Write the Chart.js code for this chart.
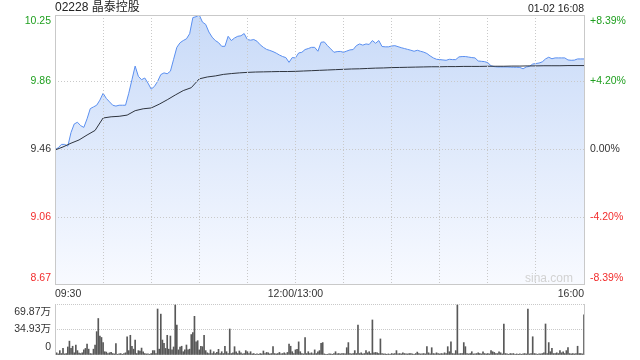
<!DOCTYPE html>
<html><head><meta charset="utf-8">
<script src="https://cdn.jsdelivr.net/npm/chart.js@4/dist/chart.umd.min.js"></script>
<style>
html,body{margin:0;padding:0;background:#fff;overflow:hidden;}
#wrap{position:relative;width:640px;height:360px;}
#title{position:absolute;left:55px;top:0;font:12px "Liberation Sans","Noto Sans CJK SC",sans-serif;line-height:14px;color:#222;white-space:nowrap;}
#date{position:absolute;right:56px;top:1px;font:10.5px "Liberation Sans",sans-serif;line-height:14px;color:#222;white-space:nowrap;}
#main{position:absolute;left:0;top:0;width:640px;height:300px;}
#vol{position:absolute;left:0;top:300px;width:640px;height:60px;}
</style></head>
<body><div id="wrap">
<canvas id="main" width="640" height="300"></canvas>
<canvas id="vol" width="640" height="60"></canvas>
<div id="title">02228 晶泰控股</div>
<div id="date">01-02 16:08</div>
</div>
<script>
// ---- data (minutes counted from 09:30, lunch break removed) ----
const priceStep = 2;   // price sampled every 2 minutes
const price = [
9.46, 9.47, 9.49, 9.49, 9.48, 9.56, 9.61, 9.62, 9.60, 9.59,
9.64, 9.70, 9.71, 9.72, 9.75, 9.79, 9.76, 9.74, 9.72, 9.715,
9.72, 9.72, 9.72, 9.79, 9.87, 9.95, 9.89, 9.87, 9.88, 9.85,
9.815, 9.83, 9.86, 9.90, 9.91, 9.905, 9.92, 9.99, 10.06, 10.087,
10.10, 10.11, 10.14, 10.235, 10.24, 10.25, 10.208, 10.195, 10.15, 10.12,
10.10, 10.088, 10.066, 10.066, 10.125, 10.10, 10.115, 10.125, 10.128, 10.141,
10.106, 10.102, 10.106, 10.096, 10.075, 10.06, 10.048, 10.042, 10.035, 10.026,
10.015, 10.006, 10.0, 9.972, 10.0, 9.998, 10.027, 10.031, 10.047, 10.053,
10.06, 10.06, 10.037, 10.09, 10.092, 10.07, 10.051, 10.031, 10.035, 10.036,
10.031, 10.038, 10.045, 10.047, 10.07, 10.08, 10.073, 10.08, 10.077, 10.10,
10.084, 10.10, 10.065, 10.063, 10.063, 10.068, 10.07, 10.064, 10.058, 10.053,
10.048, 10.043, 10.037, 10.043, 10.037, 10.032, 10.024, 10.01, 9.998, 9.99,
9.988, 9.986, 9.984, 9.99, 9.988, 9.988, 10.004, 10.006, 10.006, 10.003,
10.0, 9.998, 9.98, 9.978, 9.976, 9.97, 9.952, 9.947, 9.945, 9.945,
9.945, 9.945, 9.944, 9.943, 9.943, 9.942, 9.934, 9.945, 9.948, 9.962,
9.965, 9.968, 9.975, 9.992, 10.002, 9.993, 9.998, 9.998, 9.998, 9.998,
9.986, 9.984, 9.985, 9.992, 9.992, 9.992
];
const avgStep = 5;     // average price sampled every 5 minutes
const avgPrice = [
9.457, 9.475, 9.497, 9.516, 9.545, 9.572, 9.645, 9.652, 9.655, 9.662,
9.688, 9.699, 9.704, 9.726, 9.752, 9.78, 9.806, 9.823, 9.875, 9.886,
9.892, 9.901, 9.906, 9.91, 9.913, 9.915, 9.916, 9.917, 9.918, 9.918,
9.919, 9.921, 9.923, 9.925, 9.927, 9.929, 9.931, 9.933, 9.934, 9.936,
9.938, 9.939, 9.941, 9.942, 9.943, 9.944, 9.945, 9.946, 9.946, 9.947,
9.947, 9.948, 9.948, 9.948, 9.949, 9.949, 9.949, 9.95, 9.95, 9.951,
9.951, 9.952, 9.952, 9.952, 9.953, 9.953, 9.953
];
// volume per minute, unit: 万
const volume = [
4.6, 3, 1.5, 6, 2, 9, 1.5, 2, 11, 19,
9, 12, 3, 13.7, 6, 2.5, 2, 3, 7, 9,
15, 8, 2, 1.5, 8, 13.7, 32, 50, 26, 24,
17, 4.5, 4, 2, 3, 3.5, 2, 1.5, 15.5, 1,
1.5, 2, 1, 2, 3, 25, 6, 27, 12, 8,
20.5, 2, 6, 5.5, 9.5, 4.5, 2, 1.5, 1.5, 1,
2, 6, 6, 2, 63, 8, 56, 20.5, 16, 9,
27, 8, 26, 7, 11, 68.5, 41, 7, 11, 12,
4.5, 7, 13.7, 7, 8, 28, 30.6, 53, 18, 19.6,
7, 12, 11.4, 27, 6, 3, 2, 7, 2, 4.5,
2, 3.5, 7.8, 2, 4.5, 2, 12, 4.5, 2, 35.6,
2, 3, 11.4, 4.5, 2, 5.5, 3, 1.5, 2, 6,
4.5, 2, 4.5, 1.5, 2, 1, 1.5, 1, 2, 1.5,
5.5, 2, 3.5, 3, 1.5, 2, 11.4, 2, 1.5, 2,
3.5, 1.5, 2, 3, 1.5, 3.5, 15, 12, 4.5, 2,
7, 7.8, 18, 4.5, 2, 1.5, 24, 2, 4.5, 2,
3, 1.5, 7, 2, 4.5, 6, 16, 17, 1.5, 1,
1, 1.5, 1.5, 1, 2, 4.5, 1.5, 2, 1.5, 2,
2, 1.5, 10, 17, 2, 1.5, 2, 6, 2, 41,
2, 3, 1.5, 2, 6, 3, 4.5, 2, 48, 3,
3.5, 3, 2, 22, 2, 1.5, 1.5, 1, 1.5, 1,
2, 1.5, 2, 6, 1.5, 2, 1.5, 3, 2, 1.5,
1.5, 2, 2, 1.5, 1, 2, 4, 2, 1.5, 1.5,
2, 1.5, 11.4, 3, 1.5, 10, 2, 1.5, 3, 2,
1.5, 2, 1.5, 3, 2, 11.4, 4.5, 18, 2, 1.5,
6, 68.5, 1.5, 2, 2, 17, 11.4, 2, 1.5, 2,
4.5, 1.5, 1.5, 2, 3, 2, 1.5, 4.5, 2, 1.5,
2, 1.5, 6, 4.5, 3.5, 2, 2, 4.5, 3, 1.5,
42.5, 2, 1.5, 1, 2, 1.5, 2, 1, 1.5, 1,
1.5, 1, 1.5, 2, 1.5, 63, 1.5, 2, 25, 2,
1.5, 1, 1.5, 1.5, 2, 3, 42.5, 2, 17, 4.5,
9, 2, 2, 3, 2, 6, 3, 4.5, 2, 6,
10, 2, 1.5, 2, 1.5, 2, 12, 2, 2, 1.5,
55
];
// ---- ticks ----
const sessionMinutes = 330;
const gridMinutes = [0, 30, 60, 90, 120, 150, 180, 210, 240, 270, 300, 330];
const timeLabelMinutes = [0, 150, 330];
const timeLabels = ['09:30', '12:00/13:00', '16:00'];
const priceTicks = [8.67, 9.06, 9.46, 9.86, 10.25];
const priceTickLabels = ['8.67', '9.06', '9.46', '9.86', '10.25'];
const pctTickLabels = ['-8.39%', '-4.20%', '0.00%', '+4.20%', '+8.39%'];
const volTicks = [0, 34.93, 69.87];
const volTickLabels = ['0', '34.93万', '69.87万'];

const FONT = '"Liberation Sans", Arial, "Noto Sans CJK SC", sans-serif';
const GREEN = '#1f9f1f', RED = '#f22c2c', DARK = '#333333', GRID = '#c9c9c9';
const tickColors = [RED, RED, DARK, GREEN, GREEN];

const pricePts = price.map((v, i) => ({x: i * priceStep, y: v}));
const avgPts = avgPrice.map((v, i) => ({x: i * avgStep, y: v}));
const volPts = volume.map((v, i) => ({x: i, y: v}));

function edgeLabel(label, i, n) {
  if (i === 0) return [label, ''];
  if (i === n - 1) return ['', label];
  return label;
}

const framePlugin = {
  id: 'frame',
  afterDraw(chart) {
    const {ctx, chartArea: a} = chart;
    ctx.save();
    ctx.strokeStyle = GRID;
    ctx.lineWidth = 1;
    ctx.strokeRect(a.left + 0.5, a.top + 0.5, a.right - a.left, a.bottom - a.top);
    ctx.fillStyle = '#d2d2d2';
    ctx.font = '12px ' + FONT;
    ctx.textAlign = 'right';
    ctx.textBaseline = 'middle';
    ctx.fillText('sina.com', a.right - 11, a.bottom - 5);
    ctx.restore();
  }
};

new Chart(document.getElementById('main'), {
  type: 'line',
  data: {datasets: [
    {label: '均价', data: avgPts, borderColor: '#2e343e', borderWidth: 1, pointRadius: 0, fill: false, tension: 0},
    {label: '价格', data: pricePts, borderColor: '#5a8ff0', borderWidth: 1, pointRadius: 0, tension: 0,
     fill: {target: 'start'},
     backgroundColor: (c) => {
       const a = c.chart.chartArea;
       if (!a) return 'rgba(0,0,0,0)';
       const g = c.chart.ctx.createLinearGradient(0, a.top, 0, a.bottom);
       g.addColorStop(0, '#c8daf8');
       g.addColorStop(1, '#f8faff');
       return g;
     }}
  ]},
  options: {
    responsive: false, animation: false, devicePixelRatio: 1,
    layout: {padding: {top: 15, left: 0, right: 0, bottom: 0}},
    plugins: {legend: {display: false}, tooltip: {enabled: false}},
    scales: {
      x: {
        type: 'linear', min: 0, max: sessionMinutes,
        afterBuildTicks: s => { s.ticks = gridMinutes.map(v => ({value: v})); },
        afterFit: s => { s.height = 16; s.paddingLeft = 0; s.paddingRight = 0; },
        ticks: {autoSkip: false, maxRotation: 0, align: 'inner', padding: 4, color: DARK,
          font: {family: FONT, size: 10.5},
          callback: (v) => { const k = timeLabelMinutes.indexOf(v); return k >= 0 ? timeLabels[k] : ''; }},
        grid: {color: GRID, drawTicks: false, lineWidth: 1, z: 1},
        border: {display: false, dash: [1, 2]}
      },
      y: {
        type: 'linear', position: 'left', min: priceTicks[0], max: priceTicks[priceTicks.length - 1],
        afterBuildTicks: s => { s.ticks = priceTicks.map(v => ({value: v})); },
        afterFit: s => { s.width = 55; s.paddingTop = 0; s.paddingBottom = 0; },
        ticks: {autoSkip: false, padding: 4, font: {family: FONT, size: 10.5, lineHeight: 1.15},
          color: c => tickColors[c.index],
          callback: (v, i) => edgeLabel(priceTickLabels[i], i, priceTickLabels.length)},
        grid: {color: GRID, drawTicks: false, lineWidth: 1, z: 1},
        border: {display: false, dash: [1, 2]}
      },
      y2: {
        type: 'linear', position: 'right', min: priceTicks[0], max: priceTicks[priceTicks.length - 1],
        afterBuildTicks: s => { s.ticks = priceTicks.map(v => ({value: v})); },
        afterFit: s => { s.width = 56; s.paddingTop = 0; s.paddingBottom = 0; },
        ticks: {autoSkip: false, padding: 6, font: {family: FONT, size: 10.5, lineHeight: 1.15},
          color: c => tickColors[c.index],
          callback: (v, i) => edgeLabel(pctTickLabels[i], i, pctTickLabels.length)},
        grid: {display: false, drawTicks: false},
        border: {display: false}
      }
    }
  },
  plugins: [framePlugin]
});

const volFrame = {
  id: 'volFrame',
  afterDraw(chart) {
    const {ctx, chartArea: a} = chart;
    ctx.save();
    ctx.strokeStyle = GRID;
    ctx.lineWidth = 1;
    ctx.beginPath();
    ctx.moveTo(a.left + 0.5, a.top); ctx.lineTo(a.left + 0.5, a.bottom);
    ctx.moveTo(a.right + 0.5, a.top); ctx.lineTo(a.right + 0.5, a.bottom);
    ctx.stroke();
    ctx.restore();
  }
};

new Chart(document.getElementById('vol'), {
  type: 'bar',
  data: {datasets: [{label: '成交量', data: volPts, backgroundColor: '#585858', barThickness: 1, borderWidth: 0}]},
  options: {
    responsive: false, animation: false, devicePixelRatio: 1,
    layout: {padding: {top: 4, bottom: 5, left: 0, right: 56}},
    plugins: {legend: {display: false}, tooltip: {enabled: false}},
    scales: {
      x: {type: 'linear', min: 0, max: sessionMinutes, offset: false, display: false},
      y: {
        min: volTicks[0], max: volTicks[volTicks.length - 1],
        afterBuildTicks: s => { s.ticks = volTicks.map(v => ({value: v})); },
        afterFit: s => { s.width = 55; s.paddingTop = 0; s.paddingBottom = 0; },
        ticks: {autoSkip: false, padding: 4, color: DARK, font: {family: FONT, size: 10.5, lineHeight: 1.5},
          callback: (v, i) => edgeLabel(volTickLabels[i], i, volTickLabels.length)},
        grid: {color: c => c.index === 0 ? 'rgba(0,0,0,0)' : GRID, drawTicks: false, lineWidth: 1},
        border: {display: false, dash: [1, 1]}
      }
    }
  },
  plugins: [volFrame]
});
</script>
</body></html>
